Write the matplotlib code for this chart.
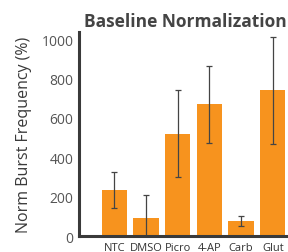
import matplotlib
matplotlib.use("Agg")
import matplotlib.pyplot as plt

categories = ["NTC", "DMSO", "Picro", "4-AP", "Carb", "Glut"]
means = [235, 92, 518, 670, 77, 742]
err_low = [143, -30, 298, 473, 51, 469]
err_high = [328, 209, 743, 862, 104, 1012]

BAR_COLOR = "#F7931E"
TEXT_GRAY = "#555555"

plt.rcParams["font.family"] = ["Open Sans", "DejaVu Sans"]

fig = plt.figure(figsize=(2.88, 2.53), dpi=100)
ax = fig.add_axes([0.274, 0.063, 0.77, 0.805])

x = list(range(len(categories)))
yerr = [[m - lo for m, lo in zip(means, err_low)],
        [hi - m for m, hi in zip(means, err_high)]]
ax.bar(x, means, width=0.8, color=BAR_COLOR, zorder=1)
ax.errorbar(x, means, yerr=yerr, fmt="none", ecolor="#444444",
            elinewidth=0.9, capsize=2.0, capthick=0.9, zorder=2)

ax.set_xlim(-1.12, 5.88)
ax.set_ylim(0, 1035)
ax.set_yticks([0, 200, 400, 600, 800, 1000])
ax.set_xticks(x)
ax.set_xticklabels(categories, fontsize=8, color="#333333")
ax.tick_params(axis="y", length=0, labelsize=10, labelcolor=TEXT_GRAY, pad=4)
ax.tick_params(axis="x", length=0, pad=4)

for side in ["top", "right"]:
    ax.spines[side].set_visible(False)
for side in ["left", "bottom"]:
    ax.spines[side].set_linewidth(2.2)
    ax.spines[side].set_color("#3a3a3a")

ax.set_ylabel("Norm Burst Frequency (%)", fontsize=11.5, color="#3a3a3a",
              labelpad=7)
fig.text(0.645, 0.915, "Baseline Normalization", ha="center", va="center",
         fontsize=12.5, fontweight="bold", color="#444444")

fig.savefig("out.png", dpi=100)
